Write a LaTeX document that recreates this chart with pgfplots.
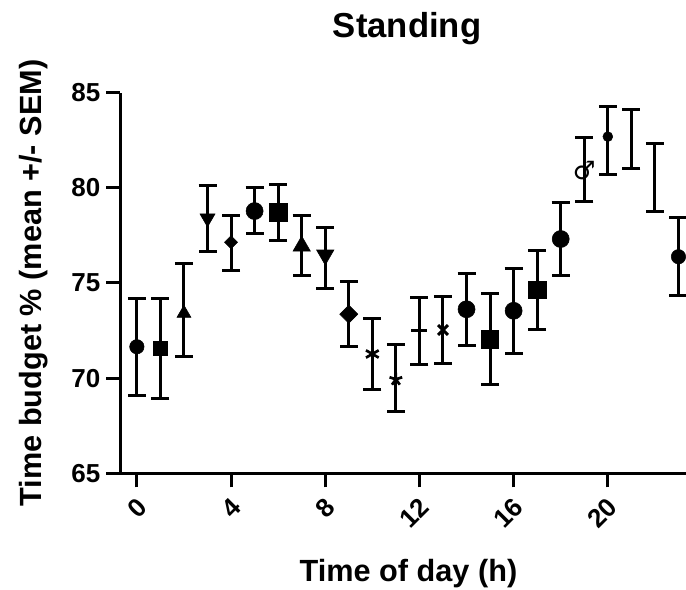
\documentclass[border=0pt]{standalone}
\usepackage{fontspec}
\setmainfont{Liberation Sans}
\newfontfamily\symfont{DejaVu Sans}
\usepackage{pgfplots}
\usepackage{pgfplotstable}
\pgfplotsset{compat=1.18}
\usetikzlibrary{calc}
\pgfdeclareplotmark{dtri}{%
  \pgfpathmoveto{\pgfqpoint{0pt}{-\pgfplotmarksize}}%
  \pgfpathlineto{\pgfqpoint{0.866\pgfplotmarksize}{0.5\pgfplotmarksize}}%
  \pgfpathlineto{\pgfqpoint{-0.866\pgfplotmarksize}{0.5\pgfplotmarksize}}%
  \pgfpathclose\pgfusepathqfillstroke}
\pgfdeclareplotmark{rdiam}{%
  \pgfpathmoveto{\pgfqpoint{0pt}{\pgfplotmarksize}}%
  \pgfpathlineto{\pgfqpoint{\pgfplotmarksize}{0pt}}%
  \pgfpathlineto{\pgfqpoint{0pt}{-\pgfplotmarksize}}%
  \pgfpathlineto{\pgfqpoint{-\pgfplotmarksize}{0pt}}%
  \pgfpathclose\pgfusepathqfillstroke}
\pgfdeclareplotmark{tast}{\pgfsetlinewidth{2pt}\pgfuseplotmark{asterisk}}
\pgfdeclareplotmark{tstar}{\pgfsetlinewidth{2pt}\pgfuseplotmark{star}}
\pgfdeclareplotmark{tx}{\pgfsetlinewidth{2.2pt}\pgfuseplotmark{x}}
\pgfdeclareplotmark{tdash}{\pgfsetlinewidth{2.25pt}%
  \pgfpathmoveto{\pgfqpoint{-\pgfplotmarksize}{0pt}}%
  \pgfpathlineto{\pgfqpoint{\pgfplotmarksize}{0pt}}%
  \pgfusepathqstroke}
\pgfplotstableread{
x y ep em cls
0 71.65 2.51 2.54 c
1 71.57 2.63 2.63 s
2 73.41 2.63 2.28 t
3 78.40 1.73 1.77 v
4 77.14 1.43 1.49 dm
5 78.78 1.23 1.17 C
6 78.72 1.43 1.51 S
7 76.94 1.60 1.54 T
8 76.47 1.46 1.77 V
9 73.36 1.73 1.71 D
10 71.27 1.85 1.86 a
11 69.94 1.84 1.70 st
12 72.53 1.72 1.80 h
13 72.53 1.75 1.75 xx
14 73.62 1.89 1.91 C
15 72.04 2.42 2.36 S
16 73.54 2.21 2.23 C
17 74.63 2.10 2.06 S
18 77.31 1.91 1.93 C
19 80.89 1.75 1.60 m
20 82.69 1.57 1.98 o
21 82.56 1.57 1.57 n
22 80.54 1.80 1.81 n
23 76.38 2.07 2.05 c
}\standing
\begin{document}
\begin{tikzpicture}
\begin{axis}[
  name=ax,
  scale only axis,
  width=424.3pt, height=285.5pt,
  xmin=-0.705, xmax=23.32,
  ymin=65, ymax=85,
  xtick={0,4,8,12,16,20},
  ytick={65,70,75,80,85},
  axis x line*=bottom, axis y line*=left,
  axis line style={line width=2.25pt, -},
  tick style={line width=2.25pt, black},
  tick align=outside,
  major tick length=10.5pt,
  clip=false,
  /pgf/number format/assume math mode=true,
  ticklabel style={font=\fontsize{19.5}{23}\selectfont\bfseries},
  yticklabel style={xshift=-1pt},
  xticklabel style={rotate=45, anchor=east, yshift=-10.8pt, xshift=-1.9pt},
]
\addplot[draw=none, mark=none, forget plot,
  error bars/.cd, y dir=both, y explicit,
  error bar style={line width=2.25pt, black},
  error mark options={line width=2.25pt, mark size=6.75pt, black, rotate=90}]
  table[x=x, y=y, y error plus=ep, y error minus=em]{\standing};
\addplot[only marks, scatter, scatter src=explicit symbolic,
  scatter/classes={
    c={mark=*, mark size=5.4pt, black},
    C={mark=*, mark size=6.4pt, black},
    s={mark=square*, mark size=5.25pt, black},
    S={mark=square*, mark size=6.5pt, black},
    t={mark=triangle*, mark size=6pt, black},
    T={mark=triangle*, mark size=7.5pt, black},
    v={mark=dtri, mark size=6.5pt, black},
    V={mark=dtri, mark size=7.5pt, black},
    dm={mark=rdiam, mark size=4.9pt, black},
    D={mark=rdiam, mark size=6.8pt, black},
    a={mark=tast, mark size=5.5pt, black},
    st={mark=tstar, mark size=5pt, black},
    h={mark=tdash, mark size=6pt, black},
    xx={mark=tx, mark size=5.2pt, black},
    m={mark=text, text mark={\symfont\fontsize{19}{19}\selectfont\bfseries ♂}, black},
    o={mark=*, mark size=3.7pt, black},
    n={mark=none}
  }]
  table[x=x, y=y, meta=cls]{\standing};
\end{axis}
\node[anchor=base, font=\fontsize{26}{30}\selectfont\bfseries] at ($(ax.north)+(3pt,41.4pt)$) {Standing};
\node[anchor=base, font=\fontsize{23}{27}\selectfont\bfseries] at ($(ax.south)+(4pt,-81.3pt)$) {Time of day (h)};
\node[anchor=base, rotate=90, font=\fontsize{23}{27}\selectfont\bfseries] at ($(ax.west)+(-59pt,0pt)$) {Time budget \% (mean +/- SEM)};
\pgfresetboundingbox
\path[use as bounding box] ($(ax.south west)+(-90.2pt,-87.5pt)$) rectangle ($(ax.north east)+(0pt,69.5pt)$);
\end{tikzpicture}
\end{document}
